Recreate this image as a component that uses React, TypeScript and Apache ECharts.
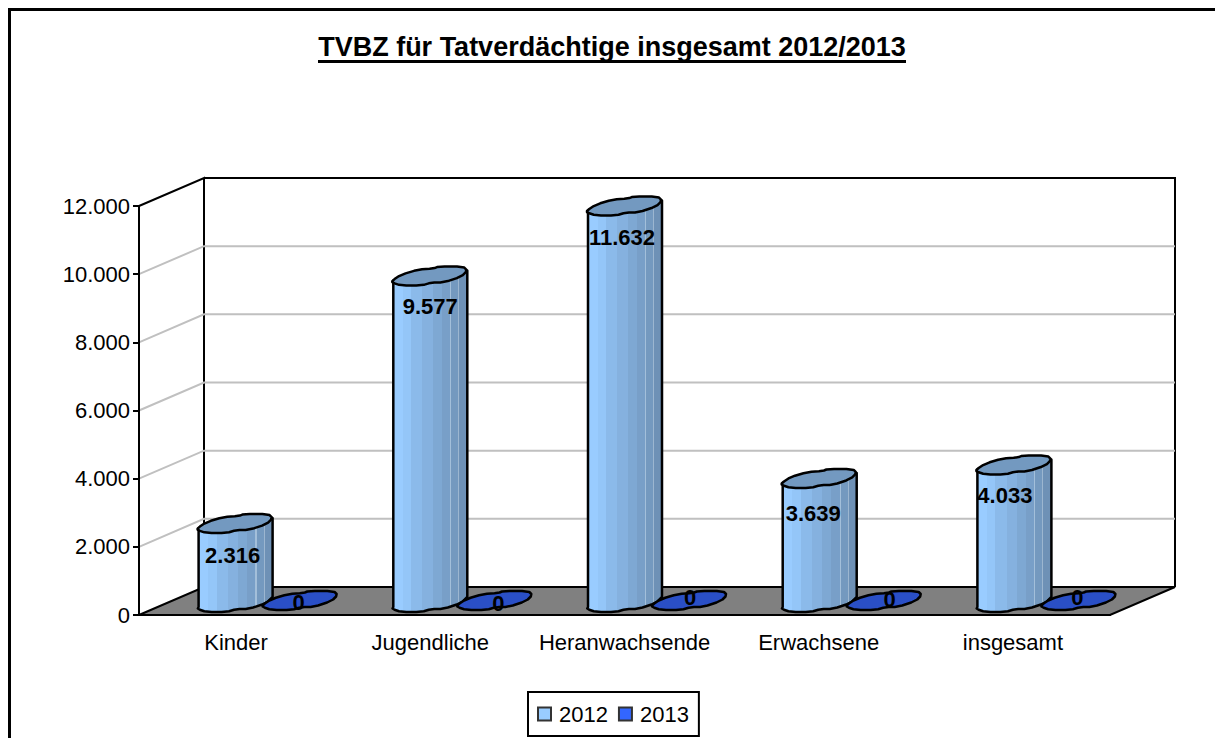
import React, { useEffect, useRef } from "react";
import * as echarts from "echarts";

const categories = ["Kinder", "Jugendliche", "Heranwachsende", "Erwachsene", "insgesamt"];
const values2012 = [2316, 9577, 11632, 3639, 4033];
const values2013 = [0, 0, 0, 0, 0];
const gridTicks = [2000, 4000, 6000, 8000, 10000];
const titleText = "TVBZ für Tatverdächtige insgesamt 2012/2013";

// small hand placements of the data labels, as seen in the reference
const labelNudge2012 = [[0, 0], [3, -1], [0, 0], [-3.5, 4], [-6.5, -1]];
const labelNudge2013 = [[1, 1], [6, 2], [3, -4], [8, -2], [1, -4]];

const DX = 65;
const DY = -28;
const FONT = "'Liberation Sans', Arial, sans-serif";

const fmt = (v: number) => String(v).replace(/\B(?=(\d{3})+$)/g, ".");

// outline of the skewed, slightly wavy cylinder cap, relative to its leftmost point
const capBack = [[8, -6], [25, -11], [40, -12], [45, -14], [70, -14], [74, -10]];
const capFront = [[68, -4], [50, 2], [38, 2], [28, 5], [8, 5], [-1, 2]];

// corner cutting, to round the outlines
const round = (pts: number[][], closed: boolean, times = 1): number[][] => {
  let cur = pts;
  for (let t = 0; t < times; t++) {
    const next: number[][] = [];
    const n = cur.length;
    const last = closed ? n : n - 1;
    if (!closed) next.push(cur[0]);
    for (let i = 0; i < last; i++) {
      const a = cur[i];
      const b = cur[(i + 1) % n];
      next.push([a[0] * 0.75 + b[0] * 0.25, a[1] * 0.75 + b[1] * 0.25]);
      next.push([a[0] * 0.25 + b[0] * 0.75, a[1] * 0.25 + b[1] * 0.75]);
    }
    if (!closed) next.push(cur[n - 1]);
    cur = next;
  }
  return cur;
};

const band = (stops: [number, string][]) => {
  const out: { offset: number; color: string }[] = [];
  let from = 0;
  stops.forEach(([end, c]) => {
    out.push({ offset: from, color: c });
    out.push({ offset: end, color: c });
    from = end;
  });
  return new echarts.graphic.LinearGradient(0, 0, 1, 0, out);
};

const bodyFill = band([
  [0.14, "#99CCFF"],
  [0.25, "#94C6F8"],
  [0.4, "#8BBAEA"],
  [0.54, "#85B1DF"],
  [0.66, "#7EA8D3"],
  [0.77, "#789FC8"],
  [0.785, "#A3BFDA"],
  [0.88, "#7499BF"],
  [0.893, "#9CB6D0"],
  [1, "#6E91B6"],
]);

const cylinder = (
  xOff: number,
  shift: number,
  fill: any,
  capFill: string,
  labelDy: number,
  nudges: number[][],
) =>
  (params: any, api: any) => {
    const i = params.dataIndex;
    const val = api.value(1);
    const base = api.coord([api.value(0), 0]);
    const top = api.coord([api.value(0), val]);
    const x0 = base[0] + xOff + i * 0.5;
    const yT = top[1] + shift;
    const yB = base[1] + shift;
    const at = (p: number[], y: number) => [x0 + p[0], y + p[1]];
    const right = capBack[capBack.length - 1];
    const stroke = { stroke: "#000", lineWidth: 2.5, lineJoin: "round" };
    const children: any[] = [];
    if (val > 0) {
      const bottomArc = round([at(right, yB), ...capFront.map((p) => at(p, yB)), [x0, yB]], false);
      const body = [
        [x0, yT],
        [x0 + 36, yT + 2],
        at(right, yT),
        ...bottomArc,
      ];
      children.push({ type: "polygon", shape: { points: body }, style: { fill, ...stroke } });
    }
    const cap = round(
      [[x0 - 1, yT], ...capBack.map((p) => at(p, yT)), ...capFront.map((p) => at(p, yT))],
      true,
    );
    children.push({ type: "polygon", shape: { points: cap }, style: { fill: capFill, ...stroke } });
    children.push({
      type: "text",
      style: {
        text: fmt(val),
        x: x0 + 34 + nudges[i][0],
        y: yT + labelDy + nudges[i][1],
        align: "center",
        verticalAlign: "middle",
        fill: "#000",
        font: `bold 22px ${FONT}`,
      },
    });
    return { type: "group", children };
  };

const renderWalls = (params: any) => {
  const { x, y, width: w, height: h } = params.coordSys;
  const b = y + h;
  const line = { stroke: "#000", lineWidth: 2, fill: "none" };
  return {
    type: "group",
    children: [
      {
        type: "polygon",
        shape: { points: [[x, b], [x + DX, b + DY], [x + w + DX, b + DY], [x + w, b]] },
        style: { fill: "#808080", stroke: "#000", lineWidth: 2 },
      },
      { type: "polyline", shape: { points: [[x, y], [x + DX, y + DY], [x + DX, b + DY]] }, style: line },
      {
        type: "polyline",
        shape: { points: [[x + DX, y + DY], [x + w + DX, y + DY], [x + w + DX, b + DY]] },
        style: line,
      },
    ],
  };
};

const renderGridline = (params: any, api: any) => {
  const { x, width: w } = params.coordSys;
  const py = api.coord([0, api.value(1)])[1];
  return {
    type: "polyline",
    shape: { points: [[x, py], [x + DX, py + DY], [x + w + DX, py + DY]] },
    style: { stroke: "#C0C0C0", lineWidth: 2, fill: "none" },
  };
};

export default function App() {
  const ref = useRef<HTMLDivElement>(null);
  useEffect(() => {
    document.body.style.margin = "0";
    const chart = echarts.init(ref.current!, undefined, { renderer: "svg" });
    chart.setOption({
      animation: false,
      backgroundColor: "#fff",
      textStyle: { fontFamily: FONT },
      title: {
        text: titleText,
        left: 612,
        textAlign: "center",
        top: 33,
        padding: 0,
        textStyle: { fontFamily: FONT, fontSize: 27, fontWeight: "bold", color: "#000" },
      },
      grid: { left: 139, top: 206, width: 971, height: 409 },
      xAxis: {
        type: "category",
        data: categories,
        z: 5,
        axisLine: { lineStyle: { color: "#000", width: 2 } },
        axisTick: { interval: 0, length: 7, lineStyle: { color: "#000", width: 2 } },
        axisLabel: { interval: 0, color: "#000", fontSize: 22, margin: 16, fontFamily: FONT },
      },
      yAxis: {
        type: "value",
        min: 0,
        max: 12000,
        interval: 2000,
        z: 5,
        splitLine: { show: false },
        axisLine: { show: true, lineStyle: { color: "#000", width: 2 } },
        axisTick: { show: true, length: 6, lineStyle: { color: "#000", width: 2 } },
        axisLabel: { color: "#000", fontSize: 22, margin: 9, fontFamily: FONT, formatter: (v: number) => fmt(v) },
      },
      legend: {
        data: ["2012", "2013"],
        left: 528,
        top: 692,
        orient: "horizontal",
        backgroundColor: "#fff",
        borderColor: "#000",
        borderWidth: 2,
        borderRadius: 0,
        padding: [11, 10, 11, 9],
        itemWidth: 13,
        itemHeight: 13,
        itemGap: 10,
        icon: "rect",
        textStyle: { color: "#000", fontSize: 22, fontFamily: FONT, padding: [0, 0, 0, 3] },
      },
      graphic: [
        {
          type: "rect",
          shape: { x: 9.5, y: 9.5, width: 1300, height: 800 },
          style: { fill: "none", stroke: "#000", lineWidth: 3 },
          silent: true,
        },
        {
          type: "line",
          shape: { x1: 318, y1: 61.5, x2: 906, y2: 61.5 },
          style: { stroke: "#000", lineWidth: 3 },
          silent: true,
        },
      ],
      series: [
        { type: "custom", name: "walls", z: 1, silent: true, data: [[0, 0]], renderItem: renderWalls },
        {
          type: "custom",
          name: "grid",
          z: 1,
          silent: true,
          data: gridTicks.map((t) => [0, t]),
          encode: { x: 0, y: 1 },
          renderItem: renderGridline,
        },
        {
          type: "custom",
          name: "2012",
          z: 2,
          itemStyle: { color: "#99CCFF", borderColor: "#333", borderWidth: 2 },
          data: values2012.map((v, i) => [i, v]),
          encode: { x: 0, y: 1 },
          renderItem: cylinder(-37.5, -8, bodyFill, "#7399C0", 27, labelNudge2012),
        },
        {
          type: "custom",
          name: "2013",
          z: 3,
          itemStyle: { color: "#3366FF", borderColor: "#333", borderWidth: 2 },
          data: values2013.map((v, i) => [i, v]),
          encode: { x: 0, y: 1 },
          renderItem: cylinder(27.5, -10, "#2A4FC6", "#2A4FC6", -4, labelNudge2013),
        },
      ],
    });
    return () => chart.dispose();
  }, []);
  return <div ref={ref} style={{ position: "absolute", left: 0, top: 0, width: 1215, height: 738 }} />;
}
